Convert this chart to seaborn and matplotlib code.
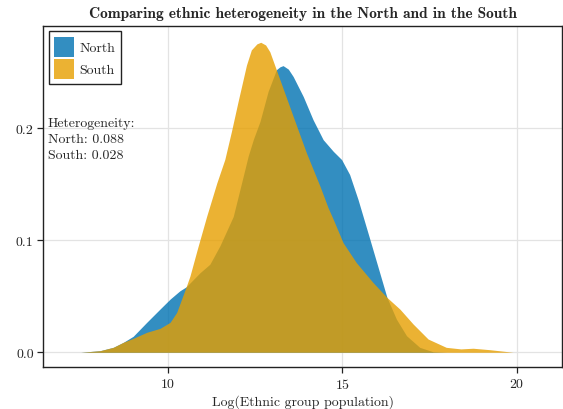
import matplotlib
matplotlib.use("Agg")
import matplotlib.pyplot as plt
import seaborn as sns
import pandas as pd

# density curves (x = log population, y = density)
north_x = [7.5, 8.05, 8.43, 8.72, 9.0, 9.39, 9.77, 10.06, 10.34, 10.52, 10.92, 11.2,
           11.49, 11.87, 12.11, 12.3, 12.45, 12.64, 12.87, 13.11, 13.21, 13.3, 13.45,
           13.59, 13.88, 14.16, 14.45, 14.74, 14.98, 15.21, 15.45, 15.79, 16.07, 16.28,
           16.55, 16.84, 17.22, 17.6, 18.0]
north_y = [0.0, 0.0014, 0.0044, 0.0089, 0.0142, 0.0267, 0.0385, 0.0474, 0.0548, 0.0583,
           0.071, 0.0785, 0.095, 0.121, 0.151, 0.175, 0.19, 0.206, 0.2325, 0.252, 0.2545,
           0.2556, 0.2525, 0.2459, 0.228, 0.2074, 0.1896, 0.1792, 0.1718, 0.1585, 0.1363,
           0.1007, 0.0711, 0.0489, 0.0296, 0.0148, 0.0044, 0.0005, 0.0]

south_x = [7.5, 8.05, 8.43, 8.72, 9.0, 9.39, 9.77, 10.06, 10.25, 10.52, 10.63, 10.85,
           11.11, 11.4, 11.63, 11.82, 12.01, 12.25, 12.39, 12.55, 12.66, 12.8, 12.92,
           13.21, 13.59, 13.78, 13.97, 14.36, 14.59, 14.74, 15.02, 15.4, 15.88, 16.28,
           16.65, 17.03, 17.46, 17.98, 18.4, 18.75, 19.23, 19.9]
south_y = [0.0, 0.0014, 0.0044, 0.0089, 0.0124, 0.0178, 0.0213, 0.0267, 0.0356, 0.0583,
           0.068, 0.093, 0.1214, 0.151, 0.172, 0.197, 0.2236, 0.256, 0.2696, 0.275,
           0.2764, 0.274, 0.268, 0.243, 0.2103, 0.194, 0.1778, 0.148, 0.129, 0.1185,
           0.0978, 0.08, 0.0622, 0.0489, 0.0385, 0.0252, 0.0118, 0.0044, 0.003, 0.0036,
           0.0023, 0.0]

regions = ["North", "South"]
colors = {"North": "#0072B2", "South": "#E69F00"}
het_text = "Heterogeneity:\nNorth: 0.088\nSouth: 0.028"

df = pd.concat([
    pd.DataFrame({"x": north_x, "density": north_y, "region": "North"}),
    pd.DataFrame({"x": south_x, "density": south_y, "region": "South"}),
])

sns.set_style("whitegrid")
plt.rcParams["font.family"] = ["cmr10", "DejaVu Serif"]
plt.rcParams["mathtext.fontset"] = "cm"
plt.rcParams["axes.formatter.use_mathtext"] = True

fig = plt.figure(figsize=(5.63, 4.10), dpi=100)
ax = fig.add_axes([0.077, 0.1017, 0.9218, 0.8332])

sns.lineplot(data=df, x="x", y="density", hue="region", palette=colors,
             linewidth=0, legend=False, ax=ax, sort=False)
for r in regions:
    sub = df[df.region == r]
    ax.fill_between(sub.x, 0, sub.density, color=colors[r], alpha=0.8,
                    linewidth=0, label=r)

ax.set_xlim(6.425, 21.31)
ax.set_ylim(-0.0134, 0.2912)
ax.set_xticks([10, 15, 20])
ax.set_yticks([0.0, 0.1, 0.2])
ax.set_yticklabels(["0.0", "0.1", "0.2"])
ax.grid(color="#e3e3e3", linewidth=0.9)
for s in ax.spines.values():
    s.set_color("#222222")
    s.set_linewidth(1.0)
ax.tick_params(axis="both", direction="out", length=4, width=0.9, color="#222222",
               labelsize=10, pad=3, bottom=True, left=True)

ax.set_xlabel("Log(Ethnic group population)", fontsize=10, labelpad=2)
ax.set_ylabel("")
ax.set_title("Comparing ethnic heterogeneity in the North and in the South",
             fontfamily="cmb10", fontsize=11.1, pad=6)

ax.text(0.009, 0.734, het_text, transform=ax.transAxes, fontsize=10,
        va="top", ha="left", linespacing=1.45)

# square swatches, about 20 px a side
leg = ax.legend(loc="upper left", fontsize=10, fancybox=False, frameon=True,
                edgecolor="#222222", framealpha=1, handlelength=1.44,
                handleheight=1.84, labelspacing=0.17, borderpad=0.4,
                handletextpad=0.36, borderaxespad=0.38)
leg.get_frame().set_linewidth(1.0)

fig.savefig("out.png", dpi=100)
